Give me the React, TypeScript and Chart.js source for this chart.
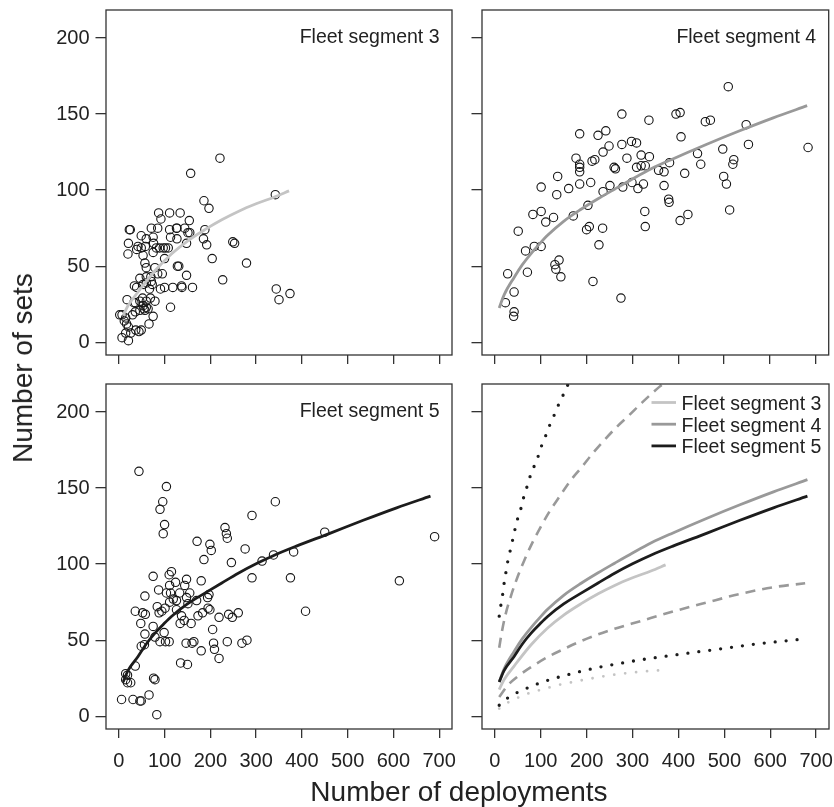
import { useEffect, useRef } from "react";
import { Chart, registerables } from "chart.js";

Chart.register(...registerables);

const PAGE_W = 834;
const PAGE_H = 807;
const FONT = '"Liberation Sans", Arial, Helvetica, sans-serif';
const TEXT = "#222222";
const AXIS = "#333333";
const LIGHT = "#c4c4c4";
const MID = "#999999";
const DARK = "#1c1c1c";

// Shared axes
const X_TICKS = [0, 100, 200, 300, 400, 500, 600, 700];
const Y_TICKS = [0, 50, 100, 150, 200];
const X_MIN = -28;
const X_MAX = 728;
const Y_MIN = -8.4;
const Y_MAX = 218.4;

const SEGMENT_LABELS = ["Fleet segment 3", "Fleet segment 4", "Fleet segment 5"];

// Fleet segment 3: deployments vs sets per vessel
const SEG3_DEPLOY = [
  221, 157, 342, 186, 197, 87, 111, 134, 92, 154, 23, 25, 71, 85, 111, 126, 127, 144, 151, 155,
  188, 49, 60, 75, 113, 127, 185, 249, 253, 21, 42, 49, 58, 76, 82, 89, 97, 102, 108, 148,
  192, 20, 39, 53, 75, 100, 204, 279, 57, 60, 79, 131, 128, 46, 60, 70, 95, 85, 148, 34,
  39, 53, 60, 71, 73, 67, 91, 100, 118, 137, 138, 161, 227, 344, 350, 374, 18, 33, 36, 46,
  52, 60, 69, 79, 53, 60, 64, 113, 2, 7, 15, 12, 30, 36, 46, 55, 57, 75, 66, 17,
  21, 7, 21, 15, 26, 37, 44, 49,
];
const SEG3_SETS = [
  121, 111, 97, 93, 88, 85, 85, 85, 81, 80, 74, 74, 75, 75, 74, 75, 75, 75, 72, 72,
  74, 70, 68, 69, 69, 68, 68, 66, 65, 65, 63, 62, 63, 65, 62, 62, 62, 62, 62, 65,
  64, 58, 61, 57, 59, 55, 55, 52, 52, 49, 49, 50, 50, 42, 43, 43, 45, 45, 44, 37,
  36, 38, 39, 40, 38, 35, 35, 36, 36, 37, 36, 36, 41, 35, 28, 32, 28, 26, 26, 27,
  29, 27, 29, 27, 24, 23, 22, 23, 18, 18, 16, 14, 18, 20, 21, 22, 21, 17, 12, 12,
  10, 3, 1, 6, 6, 8, 7, 8,
];

// Fleet segment 4
const SEG4_DEPLOY = [
  509, 277, 336, 395, 404, 459, 470, 548, 185, 225, 242, 406, 553, 683, 277, 249, 298, 309, 236, 288,
  319, 337, 497, 442, 449, 521, 519, 177, 185, 185, 185, 212, 218, 260, 263, 309, 319, 328, 357, 369,
  381, 414, 499, 505, 137, 101, 135, 161, 185, 209, 236, 251, 279, 299, 312, 324, 369, 203, 171, 83,
  101, 111, 128, 327, 379, 380, 512, 51, 86, 101, 67, 200, 206, 235, 328, 404, 421, 227, 28, 71,
  131, 140, 133, 144, 214, 275, 42, 23, 42, 41,
];
const SEG4_SETS = [
  168, 150, 146, 150, 151, 145, 146, 143, 137, 136, 139, 135, 130, 128, 130, 129, 132, 131, 125, 121,
  123, 122, 127, 124, 117, 120, 117, 121, 117, 115, 112, 119, 120, 115, 114, 115, 116, 116, 113, 112,
  118, 111, 109, 104, 109, 102, 97, 101, 104, 105, 99, 103, 102, 105, 101, 104, 103, 90, 83, 84,
  86, 79, 82, 86, 94, 92, 87, 73, 63, 63, 60, 74, 76, 75, 76, 80, 84, 64, 45, 46,
  51, 54, 48, 43, 40, 29, 33, 26, 20, 17,
];

// Fleet segment 5
const SEG5_DEPLOY = [
  44, 104, 96, 90, 342, 100, 97, 291, 232, 235, 237, 171, 199, 202, 186, 276, 246, 313, 338, 382,
  450, 613, 690, 375, 291, 408, 75, 115, 110, 124, 148, 144, 180, 87, 111, 113, 133, 155, 57, 104,
  111, 119, 126, 148, 151, 170, 194, 197, 84, 88, 94, 101, 36, 52, 58, 126, 137, 143, 158, 134,
  173, 183, 195, 199, 219, 240, 248, 261, 48, 75, 57, 56, 49, 79, 90, 99, 102, 110, 147, 160,
  164, 205, 207, 209, 180, 219, 237, 269, 280, 135, 150, 36, 15, 19, 15, 19, 26, 76, 79, 66,
  6, 31, 46, 49, 83,
];
const SEG5_SETS = [
  161, 151, 141, 136, 141, 126, 120, 132, 124, 120, 117, 115, 113, 109, 103, 110, 101, 102, 106, 108,
  121, 89, 118, 91, 91, 69, 92, 95, 93, 88, 90, 86, 89, 83, 86, 81, 81, 81, 79, 81,
  75, 77, 76, 78, 74, 76, 78, 80, 72, 68, 69, 71, 69, 68, 67, 70, 66, 63, 61, 61,
  66, 68, 71, 70, 65, 67, 65, 68, 61, 59, 54, 47, 46, 52, 49, 55, 49, 49, 48, 48,
  49, 57, 48, 44, 43, 38, 49, 48, 50, 35, 34, 33, 28, 27, 24, 22, 22, 25, 24, 14,
  11, 11, 10, 10, 1,
];

// Fitted curves
const FIT3_X = [9.5, 20, 42, 79, 115, 150, 188, 225, 261, 300, 340, 372];
const FIT3_Y = [17.5, 24, 33, 47, 58, 66.5, 74, 80.5, 86, 91, 95.5, 99.5];
const FIT4_X = [9.5, 20, 42, 60, 79, 97, 115, 150, 188, 225, 261, 300, 341, 388, 461, 534, 607, 681];
const FIT4_Y = [22.5, 31, 42.6, 51, 58.3, 64.5, 70.3, 79.5, 87.4, 94.3, 100.6, 107.3, 114, 120.5, 130, 139, 147.5, 155.5];
const FIT5_X = [9.5, 20, 42, 60, 79, 97, 115, 150, 188, 225, 261, 300, 341, 388, 461, 534, 607, 681];
const FIT5_Y = [22.5, 30, 39.3, 47.5, 54.6, 60.3, 65.6, 73.8, 80.9, 87.6, 94, 100.2, 106, 111.8, 120.2, 128.8, 137, 144.7];

// Interval bounds
const UP4_X = [9.5, 15, 23, 35, 50, 65, 80, 100, 120, 140, 165, 190, 215, 240, 265, 293, 320, 345, 366];
const UP4_Y = [45, 55, 66.5, 79, 92, 103, 113, 124.5, 135, 144, 155, 164, 173.5, 182, 190, 198, 206, 213, 218.5];
const LO4_X = [9.5, 28, 50, 79, 115, 152, 188, 225, 261, 315, 388, 461, 534, 607, 676];
const LO4_Y = [12.7, 20.3, 26.2, 32.3, 38.9, 44.4, 49.4, 53.8, 57.5, 62.3, 68.8, 74.7, 80.4, 84.8, 87.4];
const UP5_X = [9.5, 13, 17, 20, 24, 28, 33.5, 38.7, 43.8, 49.6, 57, 62.7, 70, 77, 86, 95, 102, 111.6, 120, 129.8, 139, 149.5, 160];
const UP5_Y = [65.8, 72.8, 80, 87, 94.4, 101.6, 108.9, 115.8, 122.8, 129.8, 136.8, 143.8, 150.8, 157.8, 164.6, 171.4, 178, 185, 191.7, 198.3, 205, 211.6, 218.5];
const LO5_X = [9.5, 28, 48, 72, 93, 115, 139, 163, 187, 210, 235, 260, 285, 310, 340, 376, 424, 497, 570, 665];
const LO5_Y = [7.2, 12, 15.5, 18.7, 21.3, 23.6, 25.7, 27.6, 29.5, 31.1, 32.7, 34.1, 35.4, 36.7, 38.1, 39.6, 41.6, 44.5, 47.5, 50.5];
const LO3_X = [9.5, 31, 55, 75, 97, 122, 144, 170, 192, 217, 240, 265, 290, 315, 340, 363];
const LO3_Y = [5, 9.4, 12.8, 15.2, 17.1, 19.2, 20.9, 22.5, 23.8, 25.2, 26.4, 27.5, 28.4, 29.2, 29.8, 30.3];

const pairs = (xs: number[], ys: number[]) => xs.map((x, i) => ({ x, y: ys[i] }));

const scatterSet = (xs: number[], ys: number[]) => ({
  data: pairs(xs, ys),
  showLine: false,
  pointStyle: "circle",
  pointRadius: 4.2,
  pointBorderWidth: 1.1,
  pointBorderColor: "#151515",
  pointBackgroundColor: "rgba(0,0,0,0)",
});

const curveSet = (xs: number[], ys: number[], color: string, extra: Record<string, unknown> = {}) => ({
  data: pairs(xs, ys),
  showLine: true,
  pointRadius: 0,
  borderColor: color,
  borderWidth: 2.8,
  fill: false,
  cubicInterpolationMode: "monotone",
  ...extra,
});

const dotted = { borderDash: [0, 11], borderCapStyle: "round", borderWidth: 3.3 };
const dashed = { borderDash: [10, 7], borderWidth: 2.6 };

type Box = { left: number; top: number; right: number; bottom: number };
type PanelSpec = {
  box: Box;
  xLabels: boolean;
  yLabels: boolean;
  datasets: any[];
  title?: string;
  legend?: { label: string; color: string }[];
};

const PANELS: PanelSpec[] = [
  {
    box: { left: 106, top: 10, right: 452, bottom: 355 },
    xLabels: false,
    yLabels: true,
    title: SEGMENT_LABELS[0],
    datasets: [curveSet(FIT3_X, FIT3_Y, LIGHT), scatterSet(SEG3_DEPLOY, SEG3_SETS)],
  },
  {
    box: { left: 482, top: 10, right: 829, bottom: 355 },
    xLabels: false,
    yLabels: false,
    title: SEGMENT_LABELS[1],
    datasets: [curveSet(FIT4_X, FIT4_Y, MID), scatterSet(SEG4_DEPLOY, SEG4_SETS)],
  },
  {
    box: { left: 106, top: 384, right: 452, bottom: 729 },
    xLabels: true,
    yLabels: true,
    title: SEGMENT_LABELS[2],
    datasets: [curveSet(FIT5_X, FIT5_Y, DARK), scatterSet(SEG5_DEPLOY, SEG5_SETS)],
  },
  {
    box: { left: 482, top: 384, right: 829, bottom: 729 },
    xLabels: true,
    yLabels: false,
    legend: [
      { label: SEGMENT_LABELS[0], color: LIGHT },
      { label: SEGMENT_LABELS[1], color: MID },
      { label: SEGMENT_LABELS[2], color: DARK },
    ],
    datasets: [
      curveSet(FIT5_X, FIT5_Y, DARK),
      curveSet(FIT4_X, FIT4_Y, MID),
      curveSet(FIT3_X, FIT3_Y, LIGHT),
      curveSet(UP5_X, UP5_Y, DARK, dotted),
      curveSet(LO5_X, LO5_Y, DARK, dotted),
      curveSet(UP4_X, UP4_Y, MID, dashed),
      curveSet(LO4_X, LO4_Y, MID, dashed),
      curveSet(LO3_X, LO3_Y, LIGHT, { ...dotted, borderWidth: 2.8 }),
    ],
  },
];

function Panel({ spec }: { spec: PanelSpec }) {
  const ref = useRef<HTMLCanvasElement>(null);

  useEffect(() => {
    const { box } = spec;
    const tickFont = { family: FONT, size: 20 };

    const frame = {
      id: "frame",
      afterDraw(chart: any) {
        const { ctx, chartArea: a } = chart;
        ctx.save();
        ctx.strokeStyle = AXIS;
        ctx.lineWidth = 1.3;
        ctx.strokeRect(a.left, a.top, a.right - a.left, a.bottom - a.top);
        ctx.fillStyle = TEXT;
        ctx.font = `19.5px ${FONT}`;
        ctx.textBaseline = "alphabetic";
        if (spec.title) {
          ctx.textAlign = "right";
          ctx.fillText(spec.title, a.right - 12.5, a.top + 33);
        }
        if (spec.legend) {
          spec.legend.forEach((item, i) => {
            const y = a.top + 18.5 + i * 21.7;
            ctx.strokeStyle = item.color;
            ctx.lineWidth = 2.8;
            ctx.beginPath();
            ctx.moveTo(a.right - 177.5, y);
            ctx.lineTo(a.right - 153, y);
            ctx.stroke();
            ctx.textAlign = "left";
            ctx.fillStyle = TEXT;
            ctx.fillText(item.label, a.right - 147.5, y + 7.5);
          });
        }
        ctx.restore();
      },
    };

    const chart = new Chart(ref.current as HTMLCanvasElement, {
      type: "scatter",
      data: { datasets: spec.datasets },
      options: {
        animation: false,
        responsive: false,
        devicePixelRatio: 1,
        events: [],
        layout: { padding: { left: 0, top: box.top, right: PAGE_W - box.right, bottom: 0 } },
        plugins: { legend: { display: false }, tooltip: { enabled: false } },
        scales: {
          x: {
            type: "linear",
            position: "bottom",
            min: X_MIN,
            max: X_MAX,
            afterBuildTicks: (s: any) => {
              s.ticks = X_TICKS.map((value) => ({ value }));
            },
            afterFit: (s: any) => {
              s.height = PAGE_H - box.bottom;
              s.paddingLeft = 0;
              s.paddingRight = 0;
            },
            grid: { drawOnChartArea: false, drawTicks: true, tickLength: 9, color: AXIS, lineWidth: 1.3 },
            border: { display: false },
            ticks: {
              padding: 11,
              color: TEXT,
              font: tickFont,
              maxRotation: 0,
              autoSkip: false,
              callback: (v: any) => (spec.xLabels ? String(v) : ""),
            },
          },
          y: {
            type: "linear",
            position: "left",
            min: Y_MIN,
            max: Y_MAX,
            afterBuildTicks: (s: any) => {
              s.ticks = Y_TICKS.map((value) => ({ value }));
            },
            afterFit: (s: any) => {
              s.width = box.left;
              s.paddingTop = 0;
              s.paddingBottom = 0;
            },
            grid: { drawOnChartArea: false, drawTicks: true, tickLength: 10.5, color: AXIS, lineWidth: 1.3 },
            border: { display: false },
            ticks: {
              padding: 6,
              color: TEXT,
              font: tickFont,
              autoSkip: false,
              callback: (v: any) => (spec.yLabels ? String(v) : ""),
            },
          },
        },
      } as any,
      plugins: [frame],
    });

    return () => chart.destroy();
  }, [spec]);

  return (
    <canvas
      ref={ref}
      width={PAGE_W}
      height={PAGE_H}
      style={{ position: "absolute", left: 0, top: 0, width: PAGE_W, height: PAGE_H }}
    />
  );
}

export default function App() {
  return (
    <div
      style={{
        position: "fixed",
        left: 0,
        top: 0,
        width: PAGE_W,
        height: PAGE_H,
        background: "#ffffff",
        overflow: "hidden",
        fontFamily: FONT,
        color: TEXT,
      }}
    >
      {PANELS.map((p, i) => (
        <Panel key={i} spec={p} />
      ))}
      <div
        style={{
          position: "absolute",
          left: 23,
          top: 368,
          transform: "translate(-50%, -50%) rotate(-90deg)",
          whiteSpace: "nowrap",
          fontSize: 28,
          lineHeight: "32px",
        }}
      >
        Number of sets
      </div>
      <div
        style={{
          position: "absolute",
          left: 459,
          top: 778,
          transform: "translateX(-50%)",
          whiteSpace: "nowrap",
          fontSize: 28,
          lineHeight: "28px",
        }}
      >
        Number of deployments
      </div>
    </div>
  );
}
